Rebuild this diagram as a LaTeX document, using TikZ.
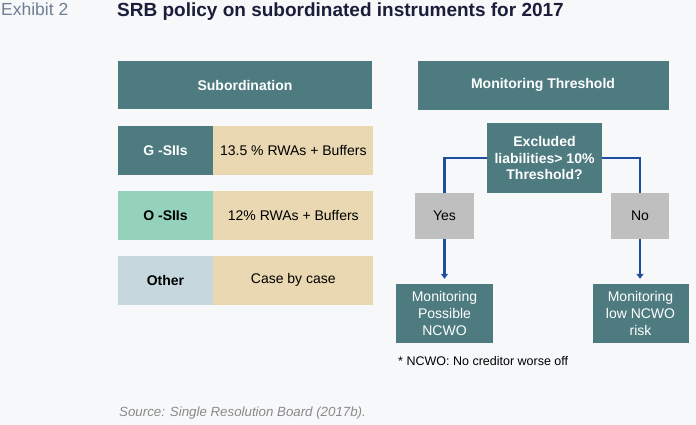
\documentclass[tikz,border=0pt]{standalone}
\usepackage{fontspec}
\setmainfont{Liberation Sans}
\usepackage{xcolor}
\usetikzlibrary{arrows.meta}
\definecolor{pagebg}{HTML}{F7F8FA}
\definecolor{tealc}{HTML}{4D7B80}
\definecolor{tanc}{HTML}{E9D8B1}
\definecolor{mintc}{HTML}{95D2BC}
\definecolor{palec}{HTML}{C6D8DE}
\definecolor{greyc}{HTML}{BFBFBF}
\definecolor{arrowc}{HTML}{1F4E9E}
\definecolor{titlec}{HTML}{1B1E3A}
\definecolor{exhibitc}{HTML}{6E7F96}
\definecolor{sourcec}{HTML}{8A8A8A}
\tikzset{
  cell/.style={inner sep=0pt, minimum height=49pt, align=center, font=\fontsize{14}{16.7}\selectfont},
  boldcell/.style={cell, font=\fontsize{14}{16.7}\selectfont\bfseries},
  tealbox/.style={cell, fill=tealc, text=white},
  tanbox/.style={cell, fill=tanc, minimum width=160pt},
  flow/.style={draw=arrowc, line width=2.8pt},
}
\begin{document}
\begin{tikzpicture}[x=1pt,y=-1pt]
\fill[pagebg] (0,0) rectangle (696,425);
\useasboundingbox (0,0) rectangle (696,425);
\node (exhibit) at (1,16) [anchor=base west, inner sep=0pt, text=exhibitc, font=\fontsize{17.5}{20}\selectfont] {Exhibit 2};
\node (title) at (117,17) [anchor=base west, inner sep=0pt, text=titlec, font=\fontsize{19}{22}\selectfont\bfseries] {SRB policy on subordinated instruments for 2017};
% left column
\node (subhead) at (245,85) [tealbox, boldcell, minimum width=254.6pt, minimum height=48.3pt] {Subordination};
\node (gsii) at (165.5,150.4) [tealbox, boldcell, minimum width=95.6pt] {G -SIIs};
\node (gval) at (293.3,150.4) [tanbox] {13.5 \% RWAs + Buffers};
\node (osii) at (165.5,215.5) [boldcell, fill=mintc, minimum width=95.6pt] {O -SIIs};
\node (oval) at (293.3,215.5) [tanbox] {12\% RWAs + Buffers};
\node (other) at (165.5,280) [boldcell, fill=palec, minimum width=95.6pt] {Other};
\node (otherval) at (293.3,280) [tanbox] {Case by case};
% right column
\node (monhead) at (543,85.3) [tealbox, boldcell, minimum width=251pt] {Monitoring Threshold};
\node (excl) at (544.5,158) [tealbox, boldcell, minimum width=115pt, minimum height=70pt] {Excluded\\liabilities> 10\%\\Threshold?};
\node (yes) at (444.5,216) [cell, fill=greyc, minimum width=59pt, minimum height=46pt] {Yes};
\node (no) at (640,216) [cell, fill=greyc, minimum width=58pt, minimum height=46pt] {No};
\node (possible) at (444.5,313.5) [tealbox, minimum width=97pt, minimum height=59pt] {Monitoring\\Possible\\NCWO};
\node (lowrisk) at (640.5,313.5) [tealbox, minimum width=96pt, minimum height=59pt] {Monitoring\\low NCWO\\risk};
\draw[flow] (excl.west) -| (yes.north);
\draw[flow] (excl.east) -| (no.north);
\draw[flow, -{Triangle[length=5pt,width=7pt]}, shorten >=5pt] (yes.south) -- (possible.north);
\draw[flow, -{Triangle[length=5pt,width=7pt]}, shorten >=5pt] (no.south) -- (no.south |- lowrisk.north);
\node (note) at (398,361) [anchor=west, inner sep=0pt, font=\fontsize{12.5}{15}\selectfont] {* NCWO: No creditor worse off};
\node (source) at (119,413) [anchor=west, inner sep=0pt, text=sourcec, font=\fontsize{13.3}{16}\selectfont\itshape] {Source: Single Resolution Board (2017b).};
\end{tikzpicture}
\end{document}
